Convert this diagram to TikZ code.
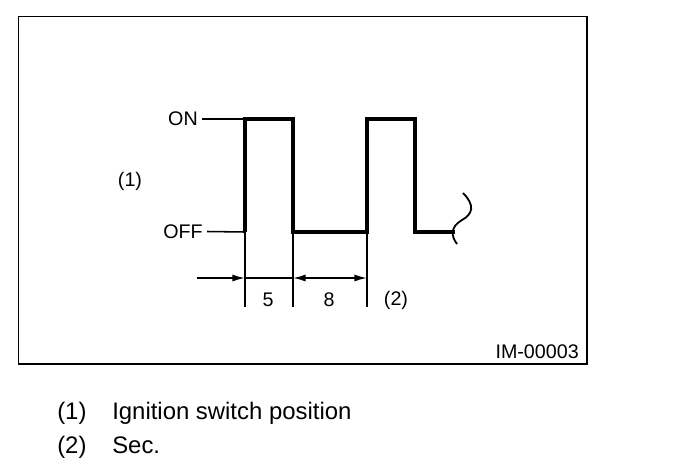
\documentclass[tikz,border=0pt]{standalone}
\usepackage{fontspec}
\setmainfont{Liberation Sans}
\usetikzlibrary{arrows.meta, positioning, calc}

\begin{document}
\begin{tikzpicture}[
  x=0.025cm, y=-0.025cm,
  font=\fontsize{14}{16}\selectfont,
  frame/.style={draw, line width=1.1pt},
  wave/.style={line width=2.9pt, line join=miter},
  thin/.style={line width=1.1pt},
  lbl/.style={inner sep=0pt},
  caption/.style={inner sep=0pt, anchor=base west, font=\fontsize{17}{20}\selectfont},
  dim/.style={thin, {Latex[length=9pt, width=5pt]}-{Latex[length=9pt, width=5pt]}}
]
  \useasboundingbox (0,0) rectangle (688,474);
  \draw[frame] (18.5,16.5) rectangle (587,364);

  % levels
  \node[lbl, anchor=east] (on) at (198,119) {ON};
  \node[lbl, anchor=east] (off) at (203,231.5) {OFF};
  \node[lbl] (pos) at (130,181) {(1)};

  \coordinate (t0) at (245,232);
  \coordinate (t1) at (293,232);
  \coordinate (t2) at (367,232);
  \coordinate (t3) at (415,232);
  \coordinate (tend) at (455,232);
  \draw[thin] (on.east) ++(3pt,0) -- (t0 |- on);
  \draw[thin] (off.east) ++(3pt,0) -- (t0);

  % signal
  \draw[wave] (t0) -- (t0 |- on) -- (t1 |- on) -- (t1) -- (t2)
    -- (t2 |- on) -- (t3 |- on) -- (t3) -- (tend);
  \draw[thin, line width=1.3pt] (463,193) .. controls (475,205) and (473,214) .. (462,220)
    .. controls (450,227) and (451,236) .. (457,244);

  % time marks
  \foreach \t in {t0,t1,t2}
    \draw[thin] (\t) -- ($(\t)+(0,75)$);
  \coordinate (start) at (197,278);
  \draw[thin, -{Latex[length=9pt, width=5pt]}] (start) -- (start -| t0);
  \draw[thin] (start -| t0) -- (start -| t1);
  \draw[dim] (start -| t1) -- (start -| t2);
  \node[lbl] (five) at (268,300) {5};
  \node[lbl] (eight) at (329,300) {8};
  \node[lbl] (sec) at (396,300) {(2)};

  \node[lbl, anchor=east] (code) at (579,352) {IM-00003};

  % legend
  \node[caption] (c1) at (57,419) {(1)};
  \node[caption] (c1t) at (112,419) {Ignition switch position};
  \node[caption] (c2) at (57,453) {(2)};
  \node[caption] (c2t) at (112,453) {Sec.};
\end{tikzpicture}
\end{document}
